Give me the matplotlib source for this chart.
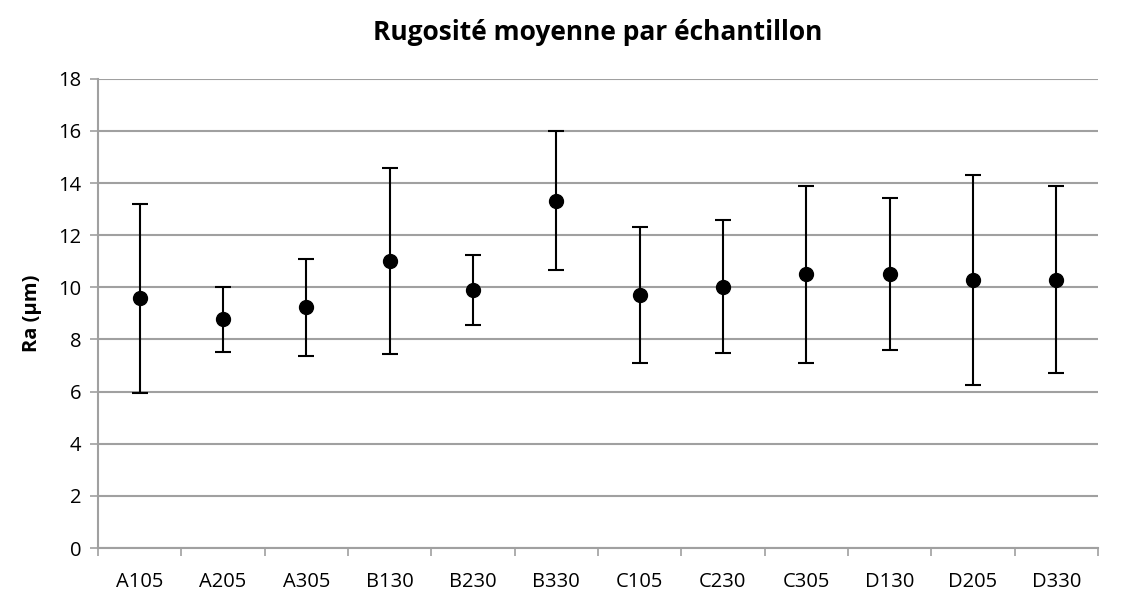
import numpy as np
import matplotlib.pyplot as plt

# Samples and mean roughness with min/max bounds
samples = ['A105', 'A205', 'A305', 'B130', 'B230', 'B330',
           'C105', 'C230', 'C305', 'D130', 'D205', 'D330']
ra_mean = [9.58, 8.77, 9.23, 11.02, 9.9, 13.3, 9.7, 10.02, 10.5, 10.5, 10.3, 10.3]
ra_upper = [13.2, 10.02, 11.1, 14.58, 11.25, 16.0, 12.3, 12.58, 13.88, 13.42, 14.32, 13.9]
ra_lower = [5.95, 7.53, 7.38, 7.45, 8.55, 10.65, 7.08, 7.47, 7.1, 7.6, 6.25, 6.7]

plt.rcParams['font.family'] = ['Open Sans', 'DejaVu Sans']

mean = np.array(ra_mean)
err = [mean - np.array(ra_lower), np.array(ra_upper) - mean]
x = np.arange(len(samples))

fig = plt.figure(figsize=(11.21, 5.92), dpi=100)
ax = fig.add_axes([0.0874, 0.0743, 0.892, 0.7925])

ax.errorbar(x, mean, yerr=err, fmt='o', color='black', ms=10,
            ecolor='black', elinewidth=1.5, capsize=6, capthick=1.5, zorder=3)

ax.set_xlim(-0.5, len(samples) - 0.5)
ax.set_ylim(0, 18)
ax.set_yticks(np.arange(0, 19, 2))
ax.set_xticks(x)
ax.set_xticklabels(samples)
ax.set_xticks(np.arange(-0.5, len(samples), 1), minor=True)
ax.tick_params(axis='x', which='major', length=0, pad=17, labelsize=14.5)
ax.tick_params(axis='x', which='minor', length=6, color='#a0a0a0', width=1.2)
ax.tick_params(axis='y', length=6, color='#a0a0a0', width=1.2, labelsize=14.5, pad=6)

ax.yaxis.grid(True, color='#a0a0a0', linewidth=1.5)
ax.set_axisbelow(True)
for s in ['top', 'right']:
    ax.spines[s].set_visible(False)
for s in ['left', 'bottom']:
    ax.spines[s].set_color('#a0a0a0')
    ax.spines[s].set_linewidth(1.5)

ax.set_ylabel('Ra (µm)', fontsize=14.5, fontweight='bold', labelpad=12)
ax.set_title('Rugosité moyenne par échantillon', fontsize=19, fontweight='bold', pad=28)

fig.savefig('out.png', dpi=100)
